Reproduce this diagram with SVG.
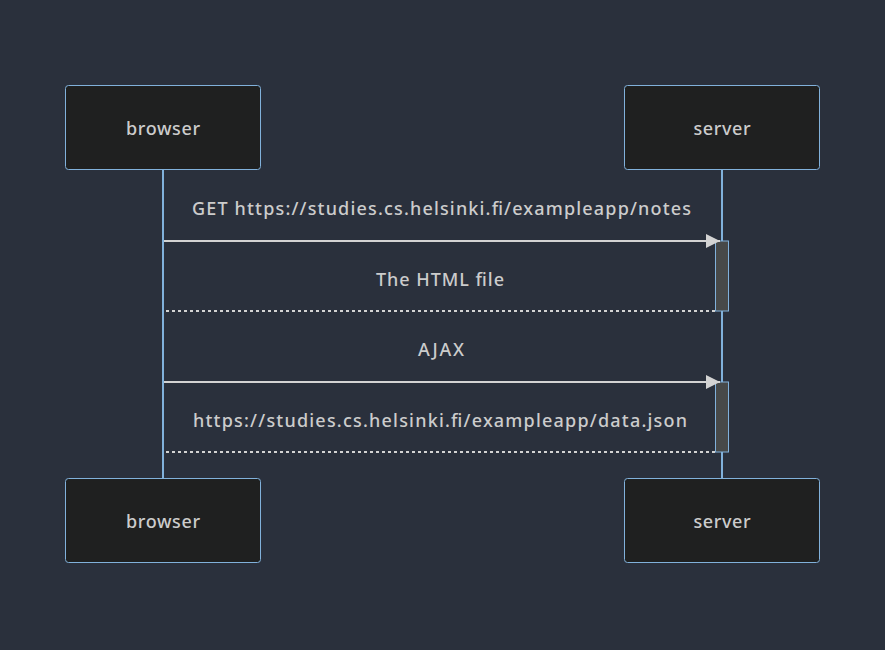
<svg xmlns="http://www.w3.org/2000/svg" width="885" height="650" viewBox="0 0 885 650">
<defs>
<style>
.actor{fill:#1f2020;stroke:#81b1db;stroke-width:1}
.atext{fill:#cccccc;font-family:"Noto Sans","DejaVu Sans",sans-serif;font-size:18px;font-weight:500;text-anchor:middle;dominant-baseline:central}
.life{stroke:#81b1db;stroke-width:2}
.msg{stroke:#d3d3d3;stroke-width:2;fill:none}
.dash{stroke-dasharray:3,3}
.mtext{fill:#cccccc;font-family:"Noto Sans","DejaVu Sans",sans-serif;font-size:18px;font-weight:500;text-anchor:middle;dominant-baseline:central}
.act{fill:#474949;stroke:#81b1db;stroke-width:1}
</style>
<marker id="arrow" viewBox="0 0 14 14" markerWidth="14" markerHeight="14" refX="14" refY="7" markerUnits="userSpaceOnUse" orient="auto">
<path d="M0,0 L14,7 L0,14 z" fill="#d3d3d3"/>
</marker>
</defs>
<rect width="885" height="650" fill="#2a303c"/>
<g id="lifelines">
<line class="life" x1="163" y1="170" x2="163" y2="478"/>
<line class="life" x1="722" y1="170" x2="722" y2="478"/>
</g>
<g id="browser-top"><rect class="actor" x="65.5" y="85.5" width="195" height="84" rx="3"/><text class="atext" x="163" y="128" textLength="74">browser</text></g>
<g id="server-top"><rect class="actor" x="624.5" y="85.5" width="195" height="84" rx="3"/><text class="atext" x="722" y="128" textLength="57">server</text></g>
<g id="browser-bottom"><rect class="actor" x="65.5" y="478.5" width="195" height="84" rx="3"/><text class="atext" x="163" y="521" textLength="74">browser</text></g>
<g id="server-bottom"><rect class="actor" x="624.5" y="478.5" width="195" height="84" rx="3"/><text class="atext" x="722" y="521" textLength="57">server</text></g>
<g id="activations">
<rect class="act" x="715.5" y="241" width="13" height="70"/>
<rect class="act" x="715.5" y="382" width="13" height="70"/>
</g>
<g id="connectors">
<line class="msg" x1="164" y1="241" x2="720" y2="241" marker-end="url(#arrow)"/>
<line class="msg dash" x1="715" y1="311" x2="164" y2="311"/>
<line class="msg" x1="164" y1="382" x2="720" y2="382" marker-end="url(#arrow)"/>
<line class="msg dash" x1="715" y1="452" x2="164" y2="452"/>
</g>
<g id="labels">
<text class="mtext" x="441.5" y="208" textLength="499">GET https://studies.cs.helsinki.fi/exampleapp/notes</text>
<text class="mtext" x="440" y="279" textLength="128">The HTML file</text>
<text class="mtext" x="441" y="349" textLength="46">AJAX</text>
<text class="mtext" x="440" y="420" textLength="494">https://studies.cs.helsinki.fi/exampleapp/data.json</text>
</g>
</svg>
